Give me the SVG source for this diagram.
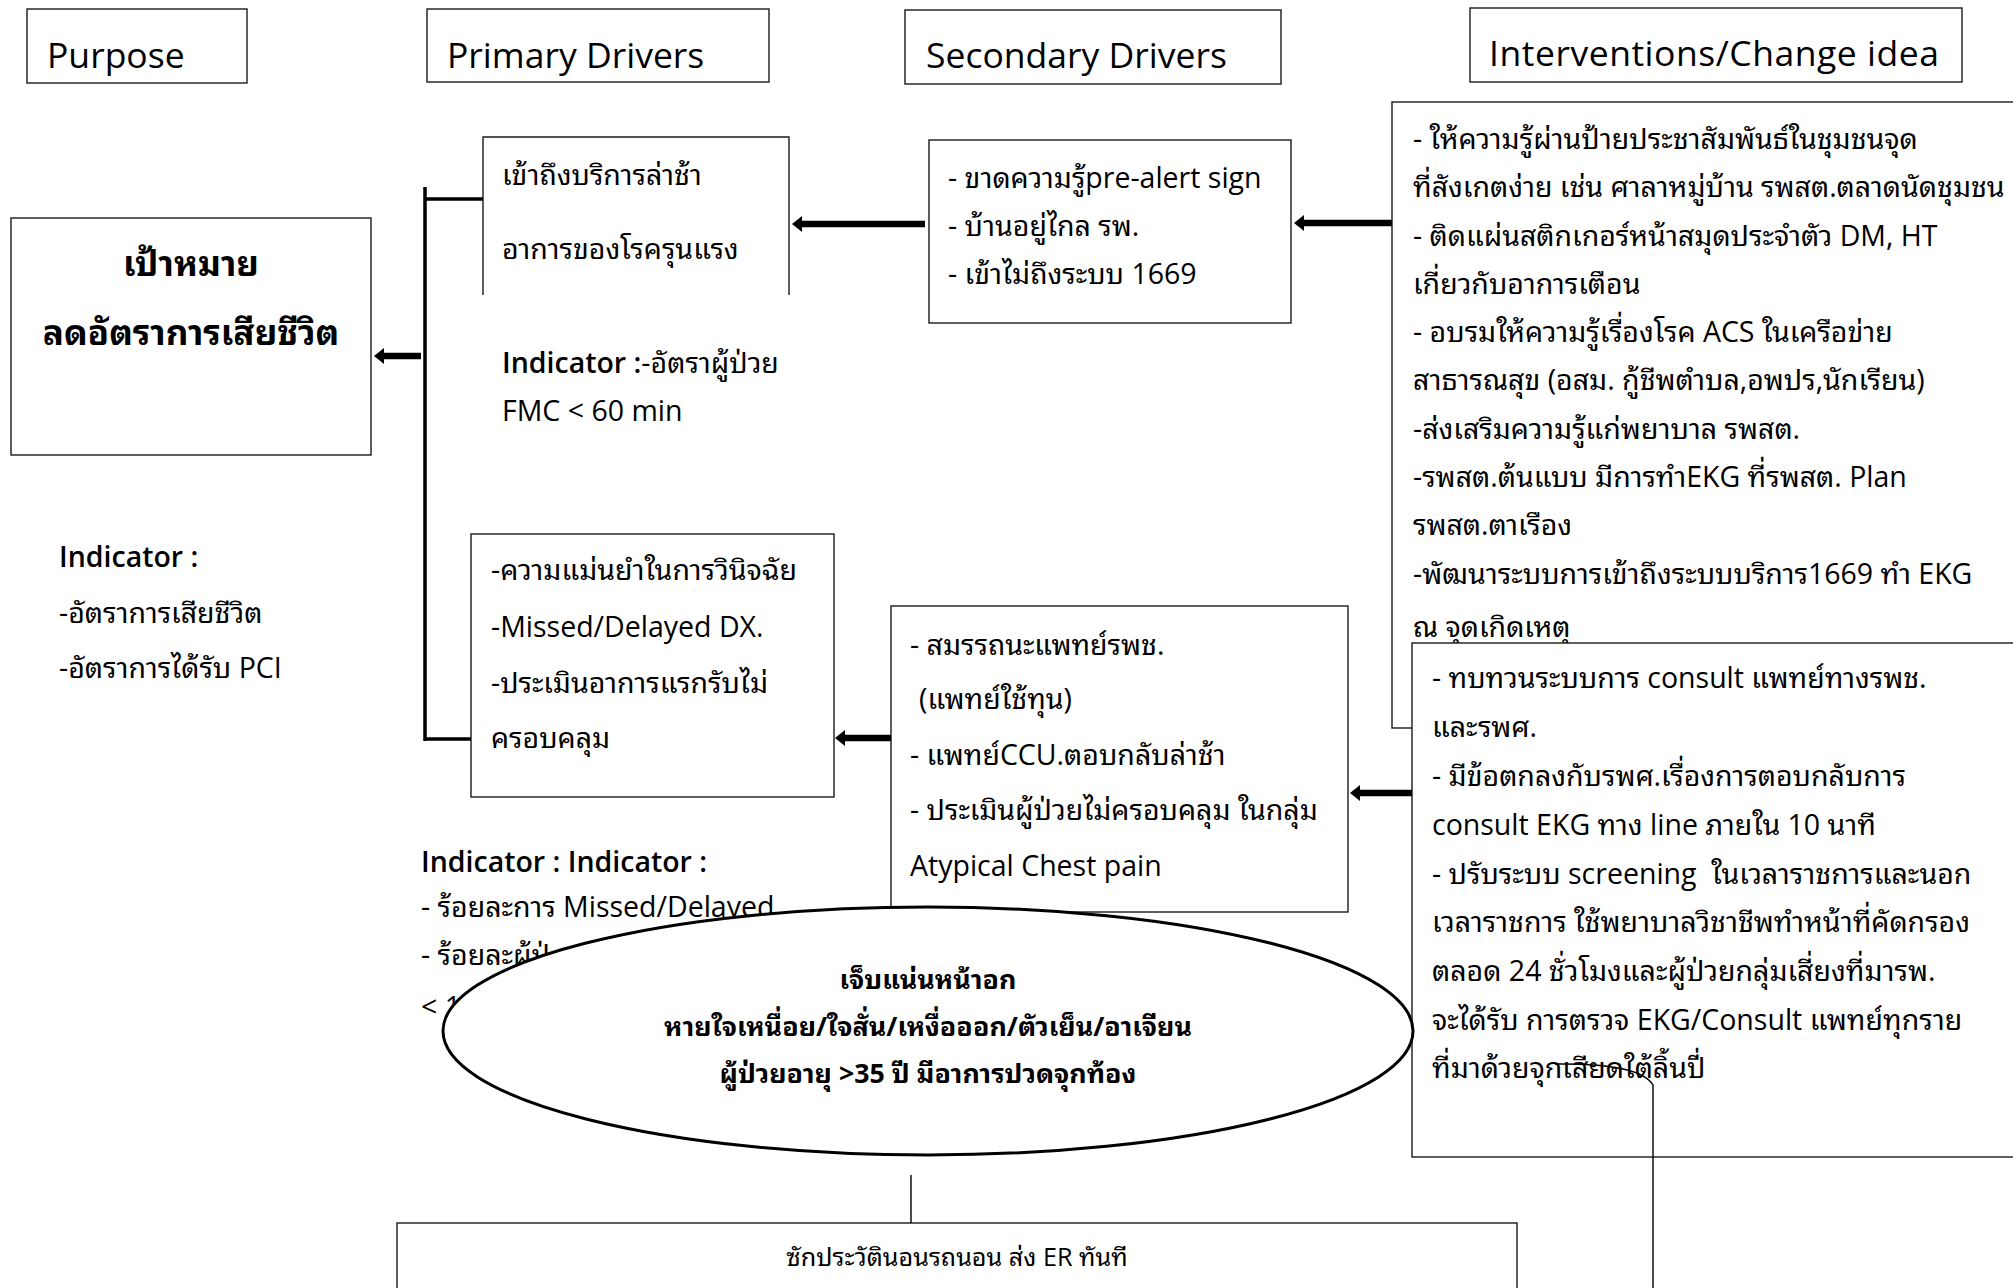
<svg xmlns="http://www.w3.org/2000/svg" width="2013" height="1288" viewBox="0 0 2013 1288">
  <style>
    .box { fill: #ffffff; stroke: #1a1a1a; stroke-width: 1.4; }
    .open { fill: none; stroke: #1a1a1a; stroke-width: 1.4; }
    .f { font-family: "Open Sans", "Noto Sans Thai Looped", "Leelawadee UI", "Loma", "Waree", "Garuda", "Noto Sans Thai", "Noto Sans", sans-serif; fill: #000; }
    .head { font-size: 35.5px; }
    .t { font-size: 28.5px; }
    .ts { font-size: 25.2px; }
    .sb { font-weight: 600; }
    .goal { font-size: 35px; font-weight: 700; text-anchor: middle; }
    .sym { font-size: 26.8px; font-weight: 700; text-anchor: middle; }
    .mid { text-anchor: middle; }
    .bracket { stroke: #000; stroke-width: 3.5; fill: none; }
    .arrow { stroke: #000; stroke-width: 6.5; fill: none; marker-end: url(#blockHead); }
    .thin { stroke: #000; stroke-width: 1.4; fill: none; }
  </style>
  <defs>
    <marker id="blockHead" markerUnits="userSpaceOnUse" markerWidth="10" markerHeight="16" viewBox="0 0 10 16" refX="1" refY="8" orient="auto">
      <path d="M0,0 L10,8 L0,16 z" fill="#000"/>
    </marker>
  </defs>

  <rect width="2013" height="1288" fill="#ffffff"/>

  <!-- column headers -->
  <g id="hdr-purpose">
    <rect class="box" x="27" y="9" width="220" height="74"/>
    <text class="f head" x="47" y="68">Purpose</text>
  </g>
  <g id="hdr-primary">
    <rect class="box" x="427" y="9" width="342" height="73"/>
    <text class="f head" x="447" y="68">Primary Drivers</text>
  </g>
  <g id="hdr-secondary">
    <rect class="box" x="905" y="10" width="376" height="74"/>
    <text class="f head" x="926" y="68">Secondary Drivers</text>
  </g>
  <g id="hdr-interventions">
    <rect class="box" x="1470" y="8" width="492" height="74"/>
    <text class="f head" x="1489" y="66" textLength="450">Interventions/Change idea</text>
  </g>

  <!-- purpose -->
  <g id="goal">
    <rect class="box" x="11" y="218" width="360" height="237"/>
    <text class="f goal" x="191" y="276">เป้าหมาย</text>
    <text class="f goal" x="191" y="345">ลดอัตราการเสียชีวิต</text>
  </g>
  <g id="goal-indicator">
    <text class="f t sb" x="59" y="567">Indicator :</text>
    <text class="f t" x="59" y="623">-อัตราการเสียชีวิต</text>
    <text class="f t" x="59" y="678">-อัตราการได้รับ PCI</text>
  </g>

  <!-- primary drivers -->
  <g id="primary-access">
    <path class="open" d="M483,295 V137 H789 V295"/>
    <text class="f t" x="502" y="185">เข้าถึงบริการล่าช้า</text>
    <text class="f t" x="502" y="259">อาการของโรครุนแรง</text>
  </g>
  <g id="primary-access-indicator">
    <text class="f t" x="502" y="373"><tspan class="sb">Indicator :</tspan>-อัตราผู้ป่วย</text>
    <text class="f t" x="502" y="421">FMC &lt; 60 min</text>
  </g>
  <g id="primary-diagnosis">
    <rect class="box" x="471" y="534" width="363" height="263"/>
    <text class="f t" x="491" y="580">-ความแม่นยำในการวินิจฉัย</text>
    <text class="f t" x="491" y="637">-Missed/Delayed DX.</text>
    <text class="f t" x="491" y="693">-ประเมินอาการแรกรับไม่</text>
    <text class="f t" x="491" y="748">ครอบคลุม</text>
  </g>
  <g id="primary-diagnosis-indicator">
    <text class="f t sb" x="421" y="872">Indicator : Indicator :</text>
    <text class="f t" x="421" y="917">- ร้อยละการ Missed/Delayed</text>
    <text class="f t" x="421" y="965">- ร้อยละผู้ป่</text>
    <text class="f t" x="421" y="1017">&lt; 1</text>
  </g>

  <!-- secondary drivers -->
  <g id="secondary-knowledge">
    <rect class="box" x="929" y="140" width="362" height="183"/>
    <text class="f t" x="948" y="188">- ขาดความรู้pre-alert sign</text>
    <text class="f t" x="948" y="236">- บ้านอยู่ไกล รพ.</text>
    <text class="f t" x="948" y="284">- เข้าไม่ถึงระบบ 1669</text>
  </g>
  <g id="secondary-competency">
    <rect class="box" x="891" y="606" width="457" height="306"/>
    <text class="f t" x="910" y="655">- สมรรถนะแพทย์รพช.</text>
    <text class="f t" x="919" y="709">(แพทย์ใช้ทุน)</text>
    <text class="f t" x="910" y="765">- แพทย์CCU.ตอบกลับล่าช้า</text>
    <text class="f t" x="910" y="820">- ประเมินผู้ป่วยไม่ครอบคลุม ในกลุ่ม</text>
    <text class="f t" x="910" y="876">Atypical Chest pain</text>
  </g>

  <!-- interventions -->
  <g id="interventions-community">
    <rect class="box" x="1392" y="102" width="700" height="626"/>
    <text class="f t" x="1413" y="149">- ให้ความรู้ผ่านป้ายประชาสัมพันธ์ในชุมชนจุด</text>
    <text class="f t" x="1413" y="197">ที่สังเกตง่าย เช่น ศาลาหมู่บ้าน รพสต.ตลาดนัดชุมชน</text>
    <text class="f t" x="1413" y="246">- ติดแผ่นสติกเกอร์หน้าสมุดประจำตัว DM, HT</text>
    <text class="f t" x="1413" y="294">เกี่ยวกับอาการเตือน</text>
    <text class="f t" x="1413" y="342">- อบรมให้ความรู้เรื่องโรค ACS ในเครือข่าย</text>
    <text class="f t" x="1413" y="390">สาธารณสุข (อสม. กู้ชีพตำบล,อพปร,นักเรียน)</text>
    <text class="f t" x="1413" y="439">-ส่งเสริมความรู้แก่พยาบาล รพสต.</text>
    <text class="f t" x="1413" y="487">-รพสต.ต้นแบบ มีการทำEKG ที่รพสต. Plan</text>
    <text class="f t" x="1413" y="535">รพสต.ตาเรือง</text>
    <text class="f t" x="1413" y="584">-พัฒนาระบบการเข้าถึงระบบบริการ1669 ทำ EKG</text>
    <text class="f t" x="1413" y="637">ณ จุดเกิดเหตุ</text>
  </g>
  <g id="interventions-consult">
    <rect class="box" x="1412" y="643" width="700" height="514"/>
    <text class="f t" x="1432" y="688">- ทบทวนระบบการ consult แพทย์ทางรพช.</text>
    <text class="f t" x="1432" y="737">และรพศ.</text>
    <text class="f t" x="1432" y="786">- มีข้อตกลงกับรพศ.เรื่องการตอบกลับการ</text>
    <text class="f t" x="1432" y="835">consult EKG ทาง line ภายใน 10 นาที</text>
    <text class="f t" x="1432" y="884" xml:space="preserve">- ปรับระบบ screening  ในเวลาราชการและนอก</text>
    <text class="f t" x="1432" y="932">เวลาราชการ ใช้พยาบาลวิชาชีพทำหน้าที่คัดกรอง</text>
    <text class="f t" x="1432" y="981">ตลอด 24 ชั่วโมงและผู้ป่วยกลุ่มเสี่ยงที่มารพ.</text>
    <text class="f t" x="1432" y="1030">จะได้รับ การตรวจ EKG/Consult แพทย์ทุกราย</text>
    <text class="f t" x="1432" y="1078">ที่มาด้วยจุกเสียดใต้ลิ้นปี่</text>
  </g>

  <!-- presenting symptoms -->
  <g id="symptoms">
    <ellipse cx="928" cy="1031" rx="485" ry="124" fill="#ffffff" stroke="#000" stroke-width="3"/>
    <text class="f sym" x="928" y="989">เจ็บแน่นหน้าอก</text>
    <text class="f sym" x="928" y="1036">หายใจเหนื่อย/ใจสั่น/เหงื่อออก/ตัวเย็น/อาเจียน</text>
    <text class="f sym" x="928" y="1083">ผู้ป่วยอายุ &gt;35 ปี มีอาการปวดจุกท้อง</text>
  </g>
  <g id="triage">
    <rect class="box" x="397" y="1223" width="1120" height="100"/>
    <text class="f ts mid" x="957" y="1266">ซักประวัตินอนรถนอน ส่ง ER ทันที</text>
  </g>

  <!-- connectors -->
  <g id="connectors">
    <path class="bracket" d="M425,187 V741"/>
    <path class="bracket" d="M425,199 H483"/>
    <path class="bracket" d="M425,739 H471"/>
    <line class="arrow" x1="421" y1="356" x2="383" y2="356"/>
    <line class="arrow" x1="925" y1="224" x2="801" y2="224"/>
    <line class="arrow" x1="1392" y1="223" x2="1303" y2="223"/>
    <line class="arrow" x1="891" y1="738" x2="844" y2="738"/>
    <line class="arrow" x1="1412" y1="793" x2="1359" y2="793"/>
    <line class="thin" x1="911" y1="1175" x2="911" y2="1223"/>
    <path class="thin" d="M1555,1064 Q1640,1063 1653,1085 L1653,1288"/>
  </g>
</svg>
